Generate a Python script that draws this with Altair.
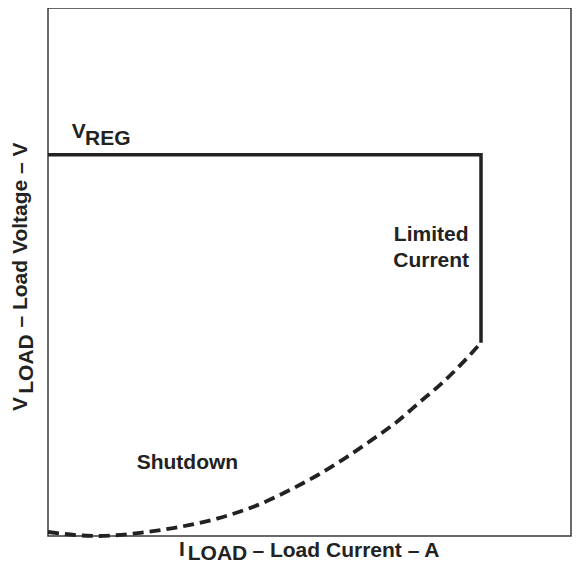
import altair as alt
import pandas as pd

# Solid regulation / current-limit path (data units, x 0-100 spans original frame)
solid_x = [0.0, 81.7, 81.7]
solid_y = [72.2, 72.2, 36.6]

# Dashed shutdown fold-back curve
dash_x = [0.0, 9.2, 17.4, 23.6, 31.9, 39.4, 46.0, 51.0, 56.0, 61.1, 65.8, 70.2, 74.6, 78.7, 81.7]
dash_y = [0.76, 0.0, 0.6, 1.5, 3.3, 5.8, 8.9, 11.6, 14.7, 18.2, 21.6, 25.4, 29.2, 33.3, 36.6]

# In-plot annotations
lab_text = ["V", "REG", "Limited", "Current", "Shutdown"]
lab_x = [4.5, 7.0, 72.3, 72.3, 26.3]
lab_y = [75.4, 74.1, 55.9, 50.9, 12.7]
lab_align = ["left", "left", "center", "center", "center"]

FONT = "Liberation Sans"
INK = "#222222"
FS = 21

solid_df = pd.DataFrame({"x": solid_x, "y": solid_y, "o": list(range(len(solid_x)))})
dash_df = pd.DataFrame({"x": dash_x, "y": dash_y, "o": list(range(len(dash_x)))})
lab_df = pd.DataFrame({"t": lab_text, "x": lab_x, "y": lab_y, "a": lab_align})

PW = 523
xs = alt.Scale(domain=[0, 100 * PW / 530], nice=False, zero=False)
ys = alt.Scale(domain=[0, 100], nice=False, zero=False)

solid = alt.Chart(solid_df).mark_line(
    color=INK, strokeWidth=3.5, strokeJoin="miter", strokeCap="butt", clip=False
).encode(
    x=alt.X("x:Q", scale=xs, axis=None),
    y=alt.Y("y:Q", scale=ys, axis=None),
    order="o:Q",
)

dashed = alt.Chart(dash_df).mark_line(
    color=INK, strokeWidth=3.8, strokeDash=[11, 6], strokeCap="butt",
    interpolate="monotone", clip=False
).encode(
    x=alt.X("x:Q", scale=xs, axis=None),
    y=alt.Y("y:Q", scale=ys, axis=None),
    order="o:Q",
)

labels_left = alt.Chart(lab_df[lab_df.a == "left"]).mark_text(
    font=FONT, fontWeight="bold", fontSize=FS, color=INK, align="left", baseline="alphabetic"
).encode(
    x=alt.X("x:Q", scale=xs, axis=None),
    y=alt.Y("y:Q", scale=ys, axis=None),
    text="t:N",
)

labels_center = alt.Chart(lab_df[lab_df.a == "center"]).mark_text(
    font=FONT, fontWeight="bold", fontSize=FS, color=INK, align="center", baseline="alphabetic"
).encode(
    x=alt.X("x:Q", scale=xs, axis=None),
    y=alt.Y("y:Q", scale=ys, axis=None),
    text="t:N",
)

# Axis titles built from pieces (main letter, subscript, rest)
xt_text = ["I", "LOAD", "– Load Current – A"]
xt_px = [134, 169.5, 298]
xt_py = [548, 552, 549]
yt_text = ["V", "LOAD", "– Load Voltage – V"]
yt_px = [-21, -15, -21]
yt_py = [396, 356, 227]

def title_piece(t, px, py, angle=0):
    return alt.Chart(pd.DataFrame({"t": [t]})).mark_text(
        font=FONT, fontWeight="bold", fontSize=FS, color=INK,
        align="center", baseline="alphabetic", angle=angle
    ).encode(x=alt.value(px), y=alt.value(py), text="t:N")

pieces = [title_piece(t, px, py) for t, px, py in zip(xt_text, xt_px, xt_py)]
pieces += [title_piece(t, px, py, 270) for t, px, py in zip(yt_text, yt_px, yt_py)]

chart = alt.layer(solid, dashed, labels_left, labels_center, *pieces).properties(
    width=PW, height=528,
    background="white",
    autosize=alt.AutoSizeParams(type="none"),
    padding={"left": 40, "top": 0, "right": 1, "bottom": 29},
).configure_view(stroke="#3a3a3a", strokeWidth=1.5)

chart.save("out.html", embed_options={"renderer": "svg", "actions": False})
